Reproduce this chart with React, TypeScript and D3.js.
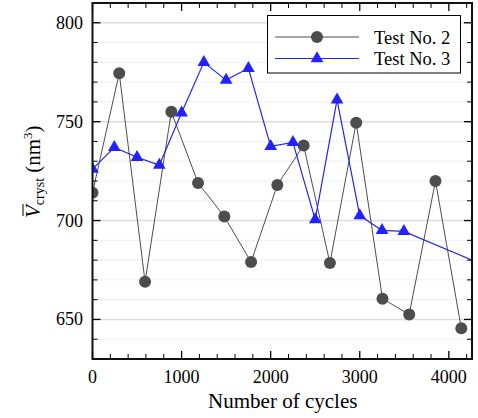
import React from "react";
import * as d3 from "d3";

// Test No. 2 (grey circles)
const cycles2 = [0, 300, 590, 885, 1185, 1480, 1780, 2075, 2370, 2665, 2960, 3255, 3555, 3850, 4140];
const volume2 = [714, 774.5, 669, 755, 719, 702, 679, 718, 738, 678.5, 749.5, 660.5, 652.5, 720, 645.5];
// Test No. 3 (blue triangles), last point lies past the right edge
const cycles3 = [0, 245, 500, 750, 1000, 1250, 1500, 1750, 2000, 2250, 2500, 2745, 3000, 3250, 3495, 5000];
const volume3 = [726, 737, 732, 728, 754.5, 780, 771, 777, 737.5, 739.5, 700.5, 761, 702.5, 695, 694.5, 666];

const seriesNames = ["Test No. 2", "Test No. 3"];
const xMajor = [0, 1000, 2000, 3000, 4000];
const yMajor = [650, 700, 750, 800];

const W = 478;
const H = 418;
const left = 92.5;
const right = 472;
const top = 3;
const bottom = 359;
const font = "Liberation Serif";
const grey = "#4d4d4d";
const blue = "#2222ff";

const App = () => {
  const x = d3.scaleLinear().domain([0, 4260]).range([left, right]);
  const y = d3.scaleLinear().domain([630, 810]).range([bottom, top]);

  const xMinor = d3.range(0, 4260, 200).filter((v) => v % 1000 !== 0);
  const yMinor = d3.range(630, 811, 10).filter((v) => v % 50 !== 0);

  const pts2 = cycles2.map((c, i) => [x(c), y(volume2[i])] as [number, number]);
  const pts3 = cycles3.map((c, i) => [x(c), y(volume3[i])] as [number, number]);
  const line = d3.line();
  const tri = d3.symbol().type(d3.symbolTriangle).size(70)();

  return (
    <svg
      width={W}
      height={H}
      style={{ position: "absolute", left: 0, top: 0, background: "#fff", fontFamily: font }}
    >
      <defs>
        <clipPath id="plot">
          <rect x={left} y={top} width={right - left} height={bottom - top} />
        </clipPath>
      </defs>

      {/* grid */}
      {yMinor.map((v) => (
        <line key={"gm" + v} x1={left} x2={right} y1={y(v)} y2={y(v)} stroke="#e2e2e2" strokeDasharray="2,2" />
      ))}
      {yMajor.map((v) => (
        <line key={"gM" + v} x1={left} x2={right} y1={y(v)} y2={y(v)} stroke="#dcdcdc" strokeWidth={1.5} />
      ))}

      {/* series */}
      <g clipPath="url(#plot)">
        <path d={line(pts2) || ""} fill="none" stroke={grey} strokeWidth={1} />
        {pts2.map((p, i) => (
          <circle key={"c" + i} cx={p[0]} cy={p[1]} r={6} fill={grey} />
        ))}
        <path d={line(pts3) || ""} fill="none" stroke={blue} strokeWidth={1.2} />
        {pts3.map((p, i) => (
          <path key={"t" + i} d={tri || ""} transform={`translate(${p[0]},${p[1]})`} fill={blue} />
        ))}
      </g>

      {/* ticks, inward on all four sides */}
      {xMajor.map((v) => (
        <g key={"xt" + v}>
          <line x1={x(v)} x2={x(v)} y1={bottom} y2={bottom - 8} stroke="#000" strokeWidth={1.3} />
          <line x1={x(v)} x2={x(v)} y1={top} y2={top + 8} stroke="#000" strokeWidth={1.3} />
          <text x={x(v)} y={383} fontSize={18} textAnchor="middle">
            {v}
          </text>
        </g>
      ))}
      {xMinor.map((v) => (
        <g key={"xm" + v}>
          <line x1={x(v)} x2={x(v)} y1={bottom} y2={bottom - 5} stroke="#000" />
          <line x1={x(v)} x2={x(v)} y1={top} y2={top + 5} stroke="#000" />
        </g>
      ))}
      {yMajor.map((v) => (
        <g key={"yt" + v}>
          <line x1={left} x2={left + 8} y1={y(v)} y2={y(v)} stroke="#000" strokeWidth={1.3} />
          <line x1={right} x2={right - 8} y1={y(v)} y2={y(v)} stroke="#000" strokeWidth={1.3} />
          <text x={83} y={y(v) + 6} fontSize={18} textAnchor="end">
            {v}
          </text>
        </g>
      ))}
      {yMinor.map((v) => (
        <g key={"ym" + v}>
          <line x1={left} x2={left + 5} y1={y(v)} y2={y(v)} stroke="#000" />
          <line x1={right} x2={right - 5} y1={y(v)} y2={y(v)} stroke="#000" />
        </g>
      ))}

      {/* frame */}
      <rect x={left} y={top} width={right - left} height={bottom - top} fill="none" stroke="#111" strokeWidth={2} />

      {/* axis titles */}
      <text x={(left + right) / 2 + 0.5} y={408} fontSize={21} textAnchor="middle">
        Number of cycles
      </text>
      <g transform="translate(40,169) rotate(-90)">
        <text x={-49} y={0} fontSize={21}>
          <tspan fontStyle="italic">V</tspan>
          <tspan fontSize={14} dy={4}>cryst</tspan>
          <tspan dy={-4}> (nm</tspan>
          <tspan fontSize={13} dy={-8}>3</tspan>
          <tspan dy={8}>)</tspan>
        </text>
        <line x1={-47} x2={-35} y1={-17} y2={-17} stroke="#000" strokeWidth={1} />
      </g>

      {/* legend */}
      <rect x={267.5} y={15.5} width={193} height={57.5} fill="#fff" stroke="#000" strokeWidth={1} />
      <line x1={275} x2={359} y1={37} y2={37} stroke={grey} />
      <circle cx={317} cy={37} r={6} fill={grey} />
      <line x1={275} x2={359} y1={58.5} y2={58.5} stroke={blue} strokeWidth={1.2} />
      <path d={tri || ""} transform="translate(317,58.5)" fill={blue} />
      <text x={374} y={43.5} fontSize={18.5}>
        {seriesNames[0]}
      </text>
      <text x={374} y={65} fontSize={18.5}>
        {seriesNames[1]}
      </text>
    </svg>
  );
};

export default App;
